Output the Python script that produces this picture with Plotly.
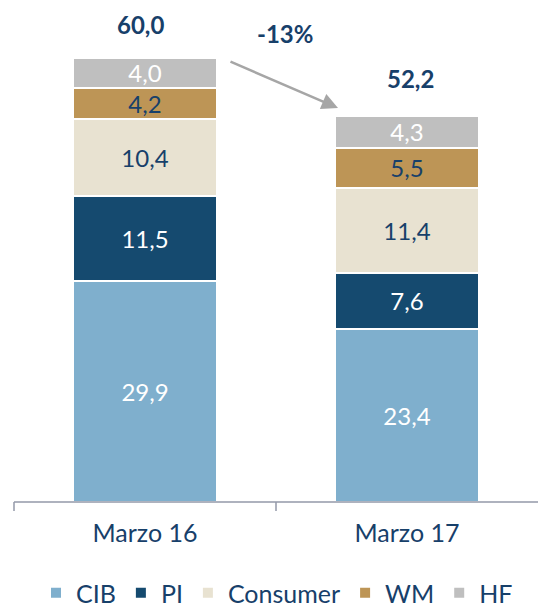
import plotly.graph_objects as go

categories = ["Marzo 16", "Marzo 17"]
series_names = ["CIB", "PI", "Consumer", "WM", "HF"]
cib = [29.9, 23.4]
pi = [11.5, 7.6]
consumer = [10.4, 11.4]
wm = [4.2, 5.5]
hf = [4.0, 4.3]
totals = [60.0, 52.2]
change_label = "-13%"

values = [cib, pi, consumer, wm, hf]
colors = ["#7FAFCD", "#154A6F", "#E8E2D1", "#BD9556", "#BFBFBF"]
text_colors = ["white", "white", "#17406A", "#17406A", "white"]
dark = "#17406A"
axis_gray = "#9398A8"
font_family = "Lato, 'Open Sans', sans-serif"

# page body has an 8px margin; figure is sized to fit the visible window
W, H = 538, 599
L, R, T, B = 6, 8, 2, 105
pw, ph = W - L - R, H - T - B

def dx(px):  # absolute window x -> x-domain fraction
    return (px - 8 - L) / pw

def dy(py):  # absolute window y -> y-domain fraction
    return (H - B - (py - 8)) / ph

fig = go.Figure()
for name, vals, col, tcol in zip(series_names, values, colors, text_colors):
    fig.add_trace(go.Bar(
        name=name, x=categories, y=vals,
        marker=dict(color=col, line=dict(color="white", width=2)),
        texttemplate="%{y:.1f}", textposition="inside", insidetextanchor="middle",
        textfont=dict(color=tcol, size=24, family=font_family),
        constraintext="none",
        width=0.55,
    ))

for cat, tot in zip(categories, totals):
    fig.add_annotation(x=cat, y=tot, text="<b>%s</b>" % f"{tot:.1f}".replace(".", ","),
                       showarrow=False, yanchor="bottom", yshift=17 if tot > 55 else 21,
                       xshift=-5 if tot > 55 else 3,
                       font=dict(size=24, color=dark, family=font_family))

fig.add_annotation(xref="x domain", yref="y domain", x=dx(285), y=dy(33),
                   xanchor="center", yanchor="middle",
                   text="<b>%s</b>" % change_label,
                   showarrow=False, font=dict(size=24, color=dark, family=font_family))

# arrow
fig.add_annotation(xref="x domain", yref="y domain", axref="x domain", ayref="y domain",
                   x=dx(338), y=dy(108), ax=dx(229), ay=dy(61),
                   text="", showarrow=True, arrowhead=2, arrowsize=1.3, arrowwidth=2.5,
                   arrowcolor="#A6A6A6")

# baseline extended to the right edge, and ticks at category boundaries (left + middle)
fig.add_shape(type="line", xref="x domain", yref="y domain", x0=0, x1=dx(546), y0=0, y1=0,
              line=dict(color=axis_gray, width=1.5))
for bx in [0, 0.5]:
    fig.add_shape(type="line", xref="x domain", yref="y domain", x0=bx, x1=bx,
                  ysizemode="pixel", yanchor=0, y0=0, y1=-9,
                  line=dict(color=axis_gray, width=1.5))

fig.update_layout(
    barmode="stack",
    width=W, height=H,
    margin=dict(l=L, r=R, t=T, b=B, autoexpand=False),
    paper_bgcolor="white", plot_bgcolor="white",
    separators=",.",
    bargap=0.45,
    font=dict(family=font_family, color=dark, size=20),
    legend=dict(orientation="h", x=0.5, xanchor="center", xref="container",
                y=(H - (593 - 8)) / H, yanchor="middle", yref="container",
                font=dict(size=25, color=dark), traceorder="normal",
                itemwidth=30, itemclick=False),
    showlegend=True,
)
fig.update_xaxes(showline=False, ticks="", ticklabelstandoff=14,
                 tickfont=dict(size=25, color=dark), showgrid=False, automargin=False)
fig.update_yaxes(range=[0, 66.5], visible=False, automargin=False)

fig.write_html("out.html")
